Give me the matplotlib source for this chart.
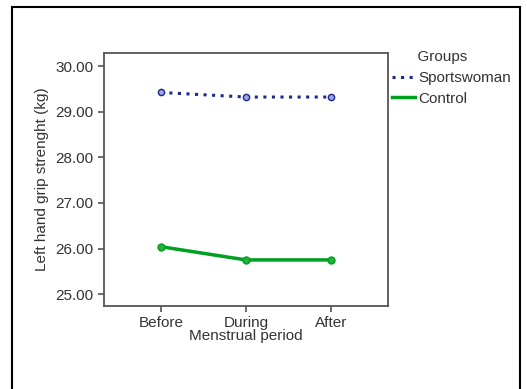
import matplotlib
matplotlib.use("Agg")
import matplotlib.pyplot as plt
from matplotlib.lines import Line2D

periods = ["Before", "During", "After"]
sportswoman = [29.42, 29.32, 29.32]
control = [26.04, 25.75, 25.75]
yticks = [25.0, 26.0, 27.0, 28.0, 29.0, 30.0]

plt.rcParams["font.family"] = ["Liberation Sans", "DejaVu Sans"]
txt = "#333333"
fs = 11

W, H = 527, 389
fig = plt.figure(figsize=(W / 100, H / 100), dpi=100)
ax = fig.add_axes([104 / W, 1 - 306 / H, (388 - 104) / W, (306 - 53) / H])

x = list(range(len(periods)))
ax.plot(x, sportswoman, color="#1b2a8a", linestyle=(0, (1, 1.8)), linewidth=2.2,
        marker="o", markersize=4.5, markerfacecolor="#9aa6e8", markeredgecolor="#1b2a8a",
        markeredgewidth=1.0, label="Sportswoman")
ax.plot(x, control, color="#00a020", linewidth=2.5, marker="o", markersize=5,
        markerfacecolor="#22b040", markeredgecolor="#00a020", label="Control")

ax.set_xlim(-0.667, 2.667)
ax.set_ylim(24.74, 30.285)
ax.set_xticks(x)
ax.set_xticklabels(periods)
ax.set_yticks(yticks)
ax.set_yticklabels([f"{v:.2f}" for v in yticks])
ax.tick_params(axis="both", colors="#555555", labelcolor=txt, labelsize=fs, length=4, width=1.2)
for s in ax.spines.values():
    s.set_color("#555555")
    s.set_linewidth(1.3)
ax.set_xlabel("Menstrual period", fontsize=fs, color=txt, labelpad=-1)
ax.set_ylabel("Left hand grip strenght (kg)", fontsize=fs, color=txt, labelpad=5)

handles = [Line2D([], [], color="#1b2a8a", linestyle=(0, (1, 1.8)), linewidth=2.2),
           Line2D([], [], color="#00a020", linewidth=2.5)]
leg = fig.legend(handles, ["Sportswoman", "Control"], title="      Groups",
                 loc="upper left", bbox_to_anchor=(392 / W, 1 - 50 / H),
                 frameon=False, fontsize=fs, title_fontsize=fs,
                 handlelength=1.5, handletextpad=0.2, labelspacing=0.45,
                 borderaxespad=0, borderpad=0)
leg._legend_box.align = "left"
leg.get_title().set_color(txt)
for t in leg.get_texts():
    t.set_color(txt)

# outer frame
fig.add_artist(Line2D([12 / W, 12 / W], [0, 1 - 7 / H], color="black", lw=1.5, transform=fig.transFigure))
fig.add_artist(Line2D([12 / W, 520 / W], [1 - 7 / H, 1 - 7 / H], color="black", lw=1.5, transform=fig.transFigure))
fig.add_artist(Line2D([520 / W, 520 / W], [0, 1 - 7 / H], color="black", lw=1.5, transform=fig.transFigure))

fig.savefig("out.png", dpi=100)
